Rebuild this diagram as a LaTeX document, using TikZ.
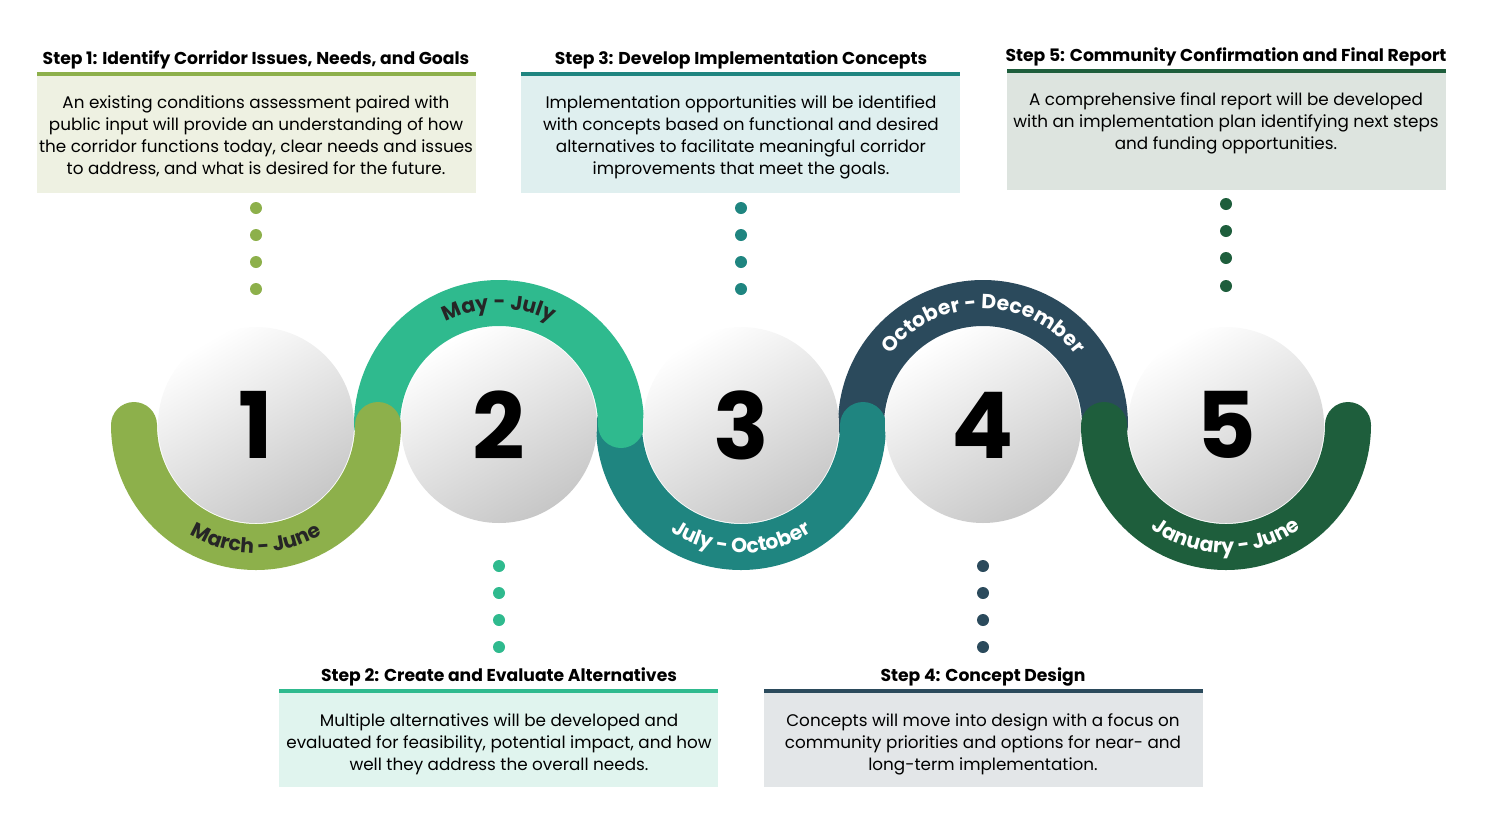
\documentclass[tikz,border=0pt]{standalone}
\usepackage{fontspec}
\setmainfont{Poppins}
\usetikzlibrary{decorations.text}
\definecolor{cA}{HTML}{8DB04B}\definecolor{cB}{HTML}{2FBA8E}\definecolor{cC}{HTML}{1F8580}
\definecolor{cD}{HTML}{2B4A5C}\definecolor{cE}{HTML}{1E5E3C}
\definecolor{bA}{HTML}{EEF1E2}\definecolor{bB}{HTML}{E0F4EE}\definecolor{bC}{HTML}{DFEFEF}
\definecolor{bD}{HTML}{E3E6E8}\definecolor{bE}{HTML}{DDE4DF}
\newcommand\mylabw{\fontsize{10.2}{12}\selectfont\bfseries\color{white}}
\newcommand\mylabd{\fontsize{10.2}{12}\selectfont\bfseries\color{black!85}}
\begin{document}
\begin{tikzpicture}[x=0.5pt,y=0.5pt,
  ring/.style={line width=23pt,line cap=round},
  ball/.style={circle,minimum size=98pt,inner sep=0pt,shade,top color=white,bottom color=black!22,shading angle=30},
  num/.style={font=\fontsize{46}{46}\selectfont\bfseries},
  dot/.style={circle,fill=#1,minimum size=6pt,inner sep=0pt},
  ttl/.style={font=\fontsize{8.6}{10}\selectfont\bfseries,anchor=base},
  body/.style={font=\fontsize{8.4}{11}\selectfont,align=center,anchor=north},
  lab/.style={postaction={decorate,decoration={text along path,text align=center,text={#1}}}}
]
\useasboundingbox (0,0) rectangle (1500,-836);
% rings
\draw[ring,cD] (861,-425) arc (180:0:122);
\draw[ring,cE] (1104,-425) arc (180:360:122);
\draw[ring,cC] (619,-425) arc (180:360:122);
\draw[ring,cB] (377,-425) arc (180:0:122);
\draw[ring,cA] (134,-425) arc (180:360:122);
% ring labels
\path[lab={|\mylabd|March - June}] (256,-425) ++(215:128) arc (215:325:128);
\path[lab={|\mylabd|May - July}] (499,-425) ++(140:116) arc (140:40:116);
\path[lab={|\mylabw|July - October}] (741,-425) ++(210:128) arc (210:330:128);
\path[lab={|\mylabw|October - December}] (983,-425) ++(155:116) arc (155:25:116);
\path[lab={|\mylabw|January - June}] (1226,-425) ++(210:128) arc (210:330:128);
% balls
\foreach \i/\x in {1/256,2/499,3/741,4/983,5/1226}{
  \node[ball] (b\i) at (\x,-425) {};
  \node[num] (n\i) at (\x,-425) {\i};
}
% dots
\foreach \j/\y in {1/208,2/235,3/262,4/289}{
  \node[dot=cA] (dA\j) at (256,-\y) {};
  \node[dot=cC] (dC\j) at (741,-\y) {};
}
\foreach \j/\y in {1/204,2/231,3/258,4/286}{\node[dot=cE] (dE\j) at (1226,-\y) {};}
\foreach \j/\y in {1/566,2/593,3/620,4/647}{
  \node[dot=cB] (dB\j) at (499,-\y) {};
  \node[dot=cD] (dD\j) at (983,-\y) {};
}
% boxes
\fill[bA] (37,-76) rectangle (476,-193); \fill[cA] (37,-72) rectangle (476,-76);
\fill[bC] (521,-76) rectangle (960,-193); \fill[cC] (521,-72) rectangle (960,-76);
\fill[bE] (1007,-73) rectangle (1446,-190); \fill[cE] (1007,-69) rectangle (1446,-73);
\fill[bB] (279,-693) rectangle (718,-787); \fill[cB] (279,-689) rectangle (718,-693);
\fill[bD] (764,-693) rectangle (1203,-787); \fill[cD] (764,-689) rectangle (1203,-693);
\node[ttl] (t1) at (256,-64) {Step 1: Identify Corridor Issues, Needs, and Goals};
\node[ttl] (t3) at (741,-64) {Step 3: Develop Implementation Concepts};
\node[ttl] (t5) at (1226,-61) {Step 5: Community Confirmation and Final Report};
\node[ttl] (t2) at (499,-681) {Step 2: Create and Evaluate Alternatives};
\node[ttl] (t4) at (983,-681) {Step 4: Concept Design};
\node[body] (x1) at (256,-89) {An existing conditions assessment paired with\\public input will provide an understanding of how\\the corridor functions today, clear needs and issues\\to address, and what is desired for the future.};
\node[body] (x3) at (741,-89) {Implementation opportunities will be identified\\with concepts based on functional and desired\\alternatives to facilitate meaningful corridor\\improvements that meet the goals.};
\node[body] (x5) at (1226,-86) {A comprehensive final report will be developed\\with an implementation plan identifying next steps\\and funding opportunities.};
\node[body] (x2) at (499,-707) {Multiple alternatives will be developed and\\evaluated for feasibility, potential impact, and how\\well they address the overall needs.};
\node[body] (x4) at (983,-707) {Concepts will move into design with a focus on\\community priorities and options for near- and\\long-term implementation.};
\end{tikzpicture}
\end{document}
